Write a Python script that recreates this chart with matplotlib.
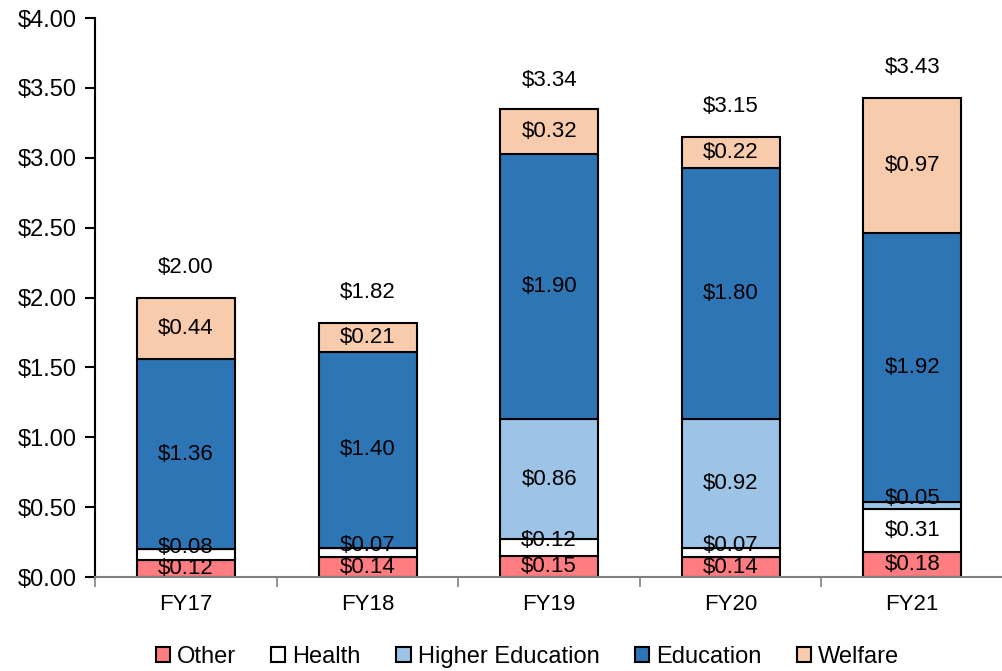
import matplotlib

matplotlib.use("Agg")

import matplotlib.pyplot as plt
import numpy as np
from matplotlib.ticker import FuncFormatter

plt.rcParams["font.family"] = ["Liberation Sans", "DejaVu Sans"]

years = ["FY17", "FY18", "FY19", "FY20", "FY21"]
other = [0.12, 0.14, 0.15, 0.14, 0.18]
health = [0.08, 0.07, 0.12, 0.07, 0.31]
higher_ed = [0.00, 0.00, 0.86, 0.92, 0.05]
education = [1.36, 1.40, 1.90, 1.80, 1.92]
welfare = [0.44, 0.21, 0.32, 0.22, 0.97]
totals = [2.00, 1.82, 3.34, 3.15, 3.43]

series = [
    ("Other", other, "#FF7C80"),
    ("Health", health, "#FFFFFF"),
    ("Higher Education", higher_ed, "#9DC3E6"),
    ("Education", education, "#2E75B6"),
    ("Welfare", welfare, "#F8CBAD"),
]

fig = plt.figure(figsize=(10.03, 6.71), dpi=100)
ax = fig.add_axes([0.095, 0.14, 0.905, 0.833])

x = np.arange(len(years))
bottom = np.zeros(len(years))
for name, vals, color in series:
    vals = np.array(vals)
    ax.bar(x, vals, 0.54, bottom=bottom, color=color, edgecolor="black",
           linewidth=1.5, label=name)
    for xi, b, v in zip(x, bottom, vals):
        if v <= 0:
            continue
        y = b + v / 2
        # thin slices: Excel pushes the label up a little
        if v < 0.13 and name in ("Health", "Higher Education"):
            y += 0.05
        ax.text(xi, y, f"${v:.2f}", ha="center", va="center", fontsize=16)
    bottom += vals

for xi, t in zip(x, totals):
    ax.text(xi, t + 0.14, f"${t:.2f}", ha="center", va="bottom", fontsize=16)

ax.set_xlim(-0.5, 4.5)
ax.set_ylim(0, 4)
ax.set_yticks(np.arange(0, 4.01, 0.5))
ax.yaxis.set_major_formatter(FuncFormatter(lambda v, _: f"${v:.2f}"))
ax.set_xticks(x)
ax.set_xticklabels(years)
ax.set_xticks(np.arange(-0.5, 5, 1), minor=True)
ax.tick_params(axis="x", which="major", length=0, labelsize=16, pad=12)
ax.tick_params(axis="x", which="minor", length=7, width=1.2, direction="out",
               color="#808080")
ax.tick_params(axis="y", length=7, width=1.5, labelsize=17, pad=6)
for s in ["top", "right"]:
    ax.spines[s].set_visible(False)
ax.spines["left"].set_linewidth(1.5)
ax.spines["bottom"].set_color("#808080")
ax.spines["bottom"].set_linewidth(1.5)

ax.legend(loc="center", bbox_to_anchor=(0.476, -0.143), ncol=5, frameon=False,
          fontsize=17, handlelength=0.6, handleheight=0.6, handletextpad=0.3,
          columnspacing=1.5, borderaxespad=0)

fig.savefig("out.png", dpi=100)
